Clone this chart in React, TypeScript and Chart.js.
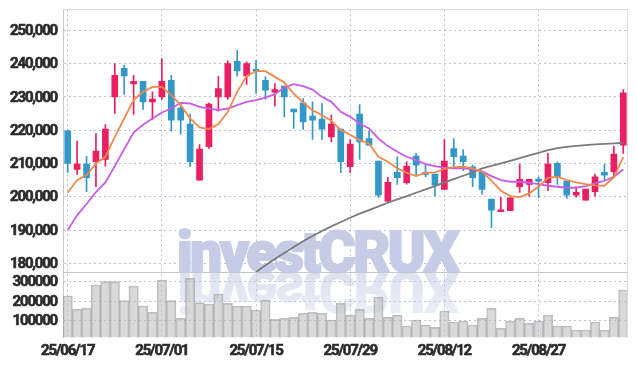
import { useEffect, useRef } from 'react';
import { Chart, registerables } from 'chart.js';

Chart.register(...registerables);

const dates = [
  '25/06/17', '25/06/18', '25/06/19', '25/06/20', '25/06/23', '25/06/24', '25/06/25', '25/06/26', '25/06/27', '25/06/30',
  '25/07/01', '25/07/02', '25/07/03', '25/07/04', '25/07/07', '25/07/08', '25/07/09', '25/07/10', '25/07/11', '25/07/14',
  '25/07/15', '25/07/16', '25/07/17', '25/07/18', '25/07/21', '25/07/22', '25/07/23', '25/07/24', '25/07/25', '25/07/28',
  '25/07/29', '25/07/30', '25/07/31', '25/08/01', '25/08/04', '25/08/05', '25/08/06', '25/08/07', '25/08/08', '25/08/11',
  '25/08/12', '25/08/13', '25/08/14', '25/08/18', '25/08/19', '25/08/20', '25/08/21', '25/08/22', '25/08/25', '25/08/26',
  '25/08/27', '25/08/28', '25/08/29', '25/09/01', '25/09/02', '25/09/03', '25/09/04', '25/09/05', '25/09/08', '25/09/09',
];

const tickDates = ['25/06/17', '25/07/01', '25/07/15', '25/07/29', '25/08/12', '25/08/27'];

const opens = [
  219800, 208200, 209800, 210500, 211200, 230000, 238600, 233900, 234700, 228500,
  230000, 235000, 226600, 221800, 205000, 215000, 230000, 230000, 240700, 236300,
  238000, 235000, 231400, 233200, 226300, 228200, 224200, 223300, 218000, 220300,
  209000, 224800, 217500, 210700, 198700, 207300, 204200, 212200, 207300, 206800,
  202200, 214500, 212200, 209000, 207500, 199300, 195500, 195800, 203000, 203700,
  205200, 204200, 210000, 204700, 200500, 199000, 201500, 207300, 207500, 215500,
];
const highs = [
  220100, 216700, 212100, 219000, 221700, 240000, 239500, 236500, 234700, 231500,
  241500, 236500, 228000, 224800, 215700, 228200, 236200, 240800, 244000, 240500,
  241000, 236000, 234000, 233200, 226300, 229500, 228500, 228000, 224500, 220300,
  217200, 227700, 219800, 210700, 205800, 212000, 210500, 213000, 209500, 206800,
  217200, 217500, 214200, 209500, 207500, 199300, 199800, 199700, 209800, 205200,
  206000, 213000, 210500, 204700, 203000, 202300, 206800, 209800, 215200, 232200,
];
const lows = [
  207300, 206700, 201500, 203000, 209200, 225000, 230700, 224700, 226200, 223200,
  229200, 219700, 218800, 209000, 205000, 214500, 225700, 229200, 236200, 233700,
  231000, 229200, 227200, 224000, 220500, 220200, 217200, 217200, 216500, 207200,
  207200, 211200, 215500, 199800, 198300, 203700, 203800, 206000, 206000, 200200,
  202200, 209000, 207800, 203000, 200800, 190700, 195500, 195800, 201300, 200200,
  199700, 201800, 203700, 199500, 199800, 199000, 200200, 205200, 205800, 213000,
];
const closes = [
  210000, 209800, 205700, 213700, 220300, 236500, 236300, 234700, 228500, 229300,
  234700, 223000, 223000, 210500, 214300, 227800, 232500, 240000, 237800, 240000,
  237700, 232000, 232200, 230000, 225500, 222500, 223000, 220300, 221800, 210500,
  215800, 216500, 215500, 200500, 204300, 205700, 209200, 209500, 206700, 203500,
  210700, 212000, 210500, 205700, 202200, 196000, 196000, 199700, 205200, 205200,
  204700, 209800, 206000, 200500, 201300, 202300, 206000, 206500, 212800, 231200,
];

const ma5 = [
  201200, 205000, 206500, 210000, 212000, 218000, 223500, 229000, 231500, 233000,
  233000, 230500, 227500, 223500, 220800, 220300, 221800, 225500, 231500, 236300,
  237700, 237700, 236000, 234300, 231000, 228300, 226000, 224500, 222800, 220000,
  218600, 217000, 216000, 212000, 210500, 208500, 207200, 206200, 207200, 207300,
  208400, 208900, 209000, 208500, 207600, 204800, 201800, 200200, 199900, 201000,
  203000, 205700, 206000, 205000, 204300, 203800, 203400, 203300, 205900, 211900,
];
const ma20 = [
  190000, 194400, 197800, 201400, 204300, 209200, 214300, 219300, 221600, 223500,
  225300, 226500, 228200, 228000, 227000, 226500, 226000, 226500, 227500, 228500,
  229000, 229800, 230800, 232800, 233800, 233200, 232200, 230000, 228500, 225500,
  224000, 222000, 220500, 217500, 215200, 213500, 212000, 211000, 209800, 209200,
  208700, 208500, 208500, 208200, 207600, 206200, 205000, 204500, 204500, 204200,
  203800, 203300, 203000, 202700, 202700, 203200, 204000, 204800, 206000, 208200,
];
const ma60 = [
  null, null, null, null, null, null, null, null, null, null,
  null, null, null, null, null, null, null, null, null, null,
  177400, 179400, 181300, 183100, 184900, 186600, 188200, 189700, 191100, 192400,
  193700, 194900, 196000, 197100, 198200, 199200, 200200, 201200, 202200, 203200,
  204300, 205300, 206300, 207300, 208500, 209300, 210000, 210800, 211600, 212400,
  213200, 214000, 214600, 215000, 215300, 215500, 215700, 215900, 216000, 216200,
];

const volumes = [
  226700, 158400, 163500, 283000, 300000, 300000, 202600, 278000, 175400, 143000,
  308700, 202600, 112000, 317000, 192500, 185600, 237000, 189000, 175400, 175400,
  155000, 206000, 107000, 112000, 117400, 138000, 143000, 138000, 103600, 189000,
  129000, 158400, 112000, 220000, 117400, 129000, 72800, 103600, 78000, 66000,
  149700, 93300, 98500, 78000, 112000, 163500, 61000, 98500, 112000, 86700,
  98500, 129000, 72800, 72800, 52300, 52300, 93300, 52300, 117400, 257400,
];

const priceTicks = [180000, 190000, 200000, 210000, 220000, 230000, 240000, 250000];
const volumeTicks = [100000, 200000, 300000];

const WATERMARK = 'investCRUX';
const UP = '#e91e63';
const DOWN = '#3297c9';

export default function App() {
  const ref = useRef<HTMLCanvasElement>(null);

  useEffect(() => {
    const canvas = ref.current;
    if (!canvas) return;
    const isUp = (i: number) => closes[i] >= opens[i];
    const colorAt = (c: any) => (isUp(c.dataIndex) ? UP : DOWN);
    const font = { family: 'Roboto', size: 15, weight: 'bold' as const };
    const tickText = { font, color: '#2a2a2a', textStrokeColor: '#2a2a2a', textStrokeWidth: 0.6 };
    const dotted = [2, 3];
    const gridColor = 'rgba(165,172,205,0.75)';
    const noPad = (s: any) => {
      s.paddingTop = 0;
      s.paddingBottom = 0;
      s.paddingLeft = 0;
      s.paddingRight = 0;
    };

    const spacing = {
      id: 'spacing',
      beforeDraw(chart: any) {
        chart.ctx.letterSpacing = '-1.2px';
      },
    };

    const watermark = {
      id: 'watermark',
      beforeDatasetsDraw(chart: any) {
        const ctx = chart.ctx;
        const base = chart.scales.y.bottom;
        const color = '198,204,230';
        ctx.save();
        ctx.font = '900 57px Roboto';
        ctx.letterSpacing = '0px';
        const w = ctx.measureText(WATERMARK).width;
        ctx.letterSpacing = (280 - w) / WATERMARK.length + 'px';
        ctx.textAlign = 'left';
        ctx.textBaseline = 'alphabetic';
        ctx.lineJoin = 'round';
        ctx.lineWidth = 2;
        ctx.fillStyle = `rgb(${color})`;
        ctx.strokeStyle = `rgb(${color})`;
        ctx.fillText(WATERMARK, 177, base);
        ctx.strokeText(WATERMARK, 177, base);
        ctx.translate(0, 2 * base);
        ctx.scale(1, -1);
        const g = ctx.createLinearGradient(0, base, 0, base - 46);
        g.addColorStop(0, `rgba(${color},0.6)`);
        g.addColorStop(1, `rgba(${color},0.3)`);
        ctx.fillStyle = g;
        ctx.fillText(WATERMARK, 177, base);
        ctx.restore();
      },
    };

    const frame = {
      id: 'frame',
      afterDatasetsDraw(chart: any) {
        const ctx = chart.ctx;
        const a = chart.chartArea;
        const sep = Math.round(chart.scales.y.bottom) + 0.5;
        const top = Math.round(a.top) + 0.5;
        const right = Math.round(a.right) - 0.5;
        ctx.save();
        ctx.lineWidth = 1;
        ctx.strokeStyle = '#dadada';
        ctx.beginPath();
        ctx.moveTo(a.left, top);
        ctx.lineTo(right, top);
        ctx.lineTo(right, a.bottom);
        ctx.stroke();
        ctx.strokeStyle = '#c8c8c8';
        ctx.beginPath();
        ctx.moveTo(a.left, sep);
        ctx.lineTo(a.right, sep);
        ctx.stroke();
        ctx.restore();
      },
    };

    const chart = new Chart(canvas, {
      type: 'bar',
      data: {
        labels: dates,
        datasets: [
          {
            type: 'line', label: 'MA5', data: ma5, yAxisID: 'y',
            borderColor: '#ef8a4c', borderWidth: 1.8, pointRadius: 0, tension: 0, order: 0,
          } as any,
          {
            type: 'line', label: 'MA20', data: ma20, yAxisID: 'y',
            borderColor: '#c85ce8', borderWidth: 1.8, pointRadius: 0, tension: 0, order: 0,
          },
          {
            type: 'line', label: 'MA60', data: ma60, yAxisID: 'y',
            borderColor: '#7a7a7a', borderWidth: 1.8, pointRadius: 0, tension: 0, order: 0,
          },
          {
            type: 'bar', label: 'wick', data: dates.map((_, i) => [lows[i], highs[i]]), yAxisID: 'y',
            backgroundColor: colorAt, barThickness: 1, grouped: false, order: 2,
          },
          {
            type: 'bar', label: 'body', data: dates.map((_, i) => [opens[i], closes[i]]), yAxisID: 'y',
            backgroundColor: colorAt, barThickness: 6, grouped: false, minBarLength: 2, order: 1,
          },
          {
            type: 'bar', label: 'volume', data: volumes, yAxisID: 'yv',
            backgroundColor: 'rgba(185,185,185,0.55)', borderColor: 'rgba(140,140,140,0.55)',
            borderWidth: 1, barPercentage: 1, categoryPercentage: 1, grouped: false, order: 3,
          },
        ],
      },
      options: {
        animation: false,
        responsive: false,
        layout: { padding: { top: 9.3, right: 9, left: 0, bottom: 0 } },
        plugins: { legend: { display: false }, tooltip: { enabled: false } },
        scales: {
          x: {
            type: 'category',
            offset: true,
            grid: { offset: false, color: gridColor, drawTicks: false },
            border: { display: false, dash: dotted },
            ticks: { autoSkip: false, maxRotation: 0, padding: 5, ...tickText },
            afterBuildTicks: (s: any) => {
              s.ticks = s.ticks.filter((t: any) => tickDates.includes(dates[t.value]));
            },
            afterFit: (s: any) => { s.height = 28.7; noPad(s); },
          },
          yv: {
            type: 'linear', position: 'left', stack: 'main', stackWeight: 65,
            min: 15000, max: 348000,
            grid: { color: gridColor, drawTicks: false },
            border: { color: '#c8c8c8', dash: dotted },
            ticks: { autoSkip: false, padding: 6, labelOffset: 1, ...tickText, callback: (v: any) => String(v) },
            afterBuildTicks: (s: any) => { s.ticks = volumeTicks.map((v) => ({ value: v })); },
            afterFit: (s: any) => { s.width = 63; noPad(s); },
          },
          y: {
            type: 'linear', position: 'left', stack: 'main', stackWeight: 263,
            min: 177300, max: 256300,
            grid: { color: gridColor, drawTicks: false },
            border: { color: '#c8c8c8', dash: dotted },
            ticks: {
              autoSkip: false, padding: 6, labelOffset: 1, ...tickText,
              callback: (v: any) => Number(v).toLocaleString('en-US'),
            },
            afterBuildTicks: (s: any) => { s.ticks = priceTicks.map((v) => ({ value: v })); },
            afterFit: (s: any) => { s.width = 63; noPad(s); },
          },
        } as any,
      },
      plugins: [spacing, watermark, frame],
    });

    return () => chart.destroy();
  }, []);

  return (
    <div style={{ position: 'absolute', left: 0, top: 0, width: 637, height: 366, background: '#fff' }}>
      <canvas ref={ref} width={637} height={366} style={{ width: 637, height: 366, display: 'block' }} />
    </div>
  );
}
